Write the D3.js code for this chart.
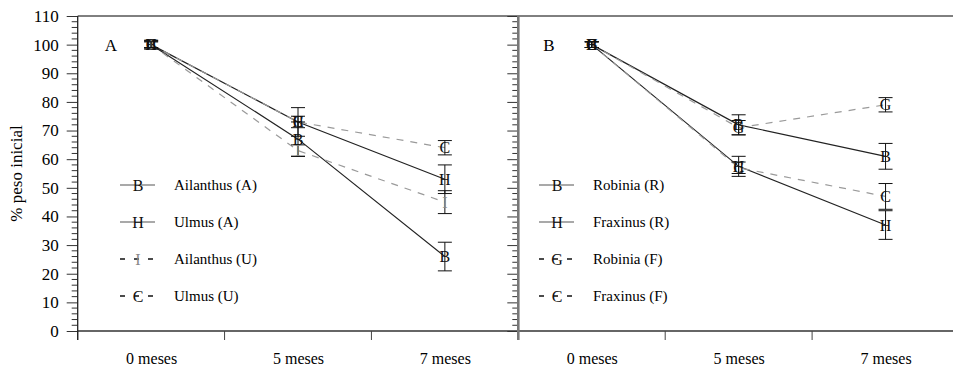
<!DOCTYPE html>
<html>
<head>
<meta charset="utf-8">
<script src="https://cdn.jsdelivr.net/npm/d3@7"></script>
<style>
	body { margin: 0; background: #fff; }
	svg { display: block; }
</style>
</head>
<body>
<div id="chart"></div>
<script>
// categories and tick labels
const meses = ["0 meses", "5 meses", "7 meses"];
const yTickValues = [0, 10, 20, 30, 40, 50, 60, 70, 80, 90, 100, 110];
const yMinorValues = [2, 4, 6, 8, 12, 14, 16, 18, 22, 24, 26, 28, 32, 34, 36, 38, 42, 44, 46, 48,
	52, 54, 56, 58, 62, 64, 66, 68, 72, 74, 76, 78, 82, 84, 86, 88, 92, 94, 96, 98, 102, 104, 106, 108];

// panel A values (% peso inicial) and error half widths
const ailanthusA = [100, 67, 26];
const ailanthusAErr = [1.5, 6, 5];
const ulmusA = [100, 73, 53];
const ulmusAErr = [1.5, 5, 5];
const ailanthusU = [100, 63, 45];
const ailanthusUErr = [1, 2, 4];
const ulmusU = [100, 73, 64];
const ulmusUErr = [1, 2, 2.5];

// panel B
const robiniaR = [100, 72, 61];
const robiniaRErr = [1, 3.5, 4.5];
const fraxinusR = [100, 57.5, 37];
const fraxinusRErr = [1, 3.5, 5];
const robiniaF = [100, 71, 79];
const robiniaFErr = [1, 2.5, 2.5];
const fraxinusF = [100, 57, 47];
const fraxinusFErr = [1, 2, 4.5];

const panels = [
	{
		letter: "A",
		series: [
			{ name: "Ailanthus (A)", values: ailanthusA, err: ailanthusAErr, mark: "B", dashed: false },
			{ name: "Ulmus (A)", values: ulmusA, err: ulmusAErr, mark: "H", dashed: false },
			{ name: "Ailanthus (U)", values: ailanthusU, err: ailanthusUErr, mark: "I", dashed: true },
			{ name: "Ulmus (U)", values: ulmusU, err: ulmusUErr, mark: "C", dashed: true }
		]
	},
	{
		letter: "B",
		series: [
			{ name: "Robinia (R)", values: robiniaR, err: robiniaRErr, mark: "B", dashed: false },
			{ name: "Fraxinus (R)", values: fraxinusR, err: fraxinusRErr, mark: "H", dashed: false },
			{ name: "Robinia (F)", values: robiniaF, err: robiniaFErr, mark: "G", dashed: true },
			{ name: "Fraxinus (F)", values: fraxinusF, err: fraxinusFErr, mark: "C", dashed: true }
		]
	}
];

const serif = '"Liberation Serif", "DejaVu Serif", serif';
const width = 953, height = 366;
const plotTop = 16, plotBottom = 331;
const panelX = [[77.7, 518.3], [518.3, 959]];

const svg = d3.select('#chart').append('svg')
	.attr('width', width)
	.attr('height', height)
	.attr('font-family', serif);

const y = d3.scaleLinear().domain([0, 110]).range([plotBottom, plotTop]);

// top border
svg.append('line')
	.attr('x1', panelX[0][0]).attr('x2', width)
	.attr('y1', plotTop).attr('y2', plotTop)
	.style('stroke', '#000').style('stroke-width', 1);

// y label
svg.append('text')
	.attr('transform', `translate(22, ${(plotTop + plotBottom) / 2}) rotate(-90)`)
	.attr('text-anchor', 'middle')
	.style('font-family', serif)
	.style('font-size', '17px')
	.text('% peso inicial');

panels.forEach((p, pi) => {
	const x = d3.scaleBand()
		.domain(meses)
		.range(panelX[pi]);
	const cx = d => x(d) + x.bandwidth() / 2;
	const g = svg.append('g');

	// x axis
	g.append('line')
		.attr('x1', panelX[pi][0]).attr('x2', panelX[pi][1])
		.attr('y1', plotBottom).attr('y2', plotBottom)
		.style('stroke', '#666').style('stroke-width', 2.2);
	g.selectAll('.xtick')
		.data(meses.map(d => x(d)))
		.enter().append('line')
			.attr('x1', d => d).attr('x2', d => d)
			.attr('y1', plotBottom).attr('y2', plotBottom + 9)
			.style('stroke', '#444').style('stroke-width', 1);

	const xAxis = d3.axisBottom(d3.scalePoint().domain(meses).range([cx(meses[0]), cx(meses[2])]))
		.tickSize(0)
		.tickPadding(0);
	const xg = g.append('g')
		.attr('transform', `translate(0, ${plotBottom})`)
		.call(xAxis);
	xg.select('.domain').remove();
	xg.selectAll('text')
		.attr('dy', null)
		.attr('y', 33)
		.style('font-family', serif)
		.style('font-size', '16px')
		.style('fill', '#000');

	// y axis
	const x0 = panelX[pi][0];
	const yAxis = d3.axisLeft(y)
		.tickValues(yTickValues)
		.tickSize(11)
		.tickPadding(8)
		.tickFormat(pi === 0 ? d3.format('d') : () => '');
	const yg = g.append('g')
		.attr('transform', `translate(${x0}, 0)`)
		.call(yAxis);
	yg.select('.domain').remove();
	yg.selectAll('text')
		.style('font-family', serif)
		.style('font-size', '17px')
		.style('fill', '#000');
	yg.selectAll('line').style('stroke', '#333');

	g.selectAll('.minor')
		.data(yMinorValues)
		.enter().append('line')
			.attr('x1', x0 - 6).attr('x2', x0)
			.attr('y1', d => y(d)).attr('y2', d => y(d))
			.style('stroke', '#333').style('stroke-width', 1);

	g.append('line')
		.attr('x1', x0).attr('x2', x0)
		.attr('y1', plotTop).attr('y2', plotBottom + 9)
		.style('stroke', pi === 0 ? '#222' : '#777')
		.style('stroke-width', pi === 0 ? 1.3 : 2.6);

	// panel letter
	g.append('text')
		.attr('x', x0 + (pi === 0 ? 27 : 25))
		.attr('y', y(100) + 6)
		.style('font-family', serif)
		.style('font-size', '17px')
		.text(p.letter);

	// lines
	const line = d3.line()
		.x((d, i) => cx(meses[i]))
		.y(d => y(d));

	p.series.forEach(s => {
		g.append('path')
			.datum(s.values)
			.attr('d', line)
			.style('fill', 'none')
			.style('stroke', s.dashed ? '#9a9a9a' : '#222')
			.style('stroke-width', 1.2)
			.style('stroke-dasharray', s.dashed ? '7,7' : null);
	});

	// error bars and markers
	p.series.forEach(s => {
		const eb = g.append('g').style('stroke', '#111').style('stroke-width', 1);
		s.values.forEach((v, i) => {
			const px = cx(meses[i]);
			const hi = y(v + s.err[i]), lo = y(v - s.err[i]);
			eb.append('line').attr('x1', px).attr('x2', px).attr('y1', hi).attr('y2', lo);
			eb.append('line').attr('x1', px - 7).attr('x2', px + 7).attr('y1', hi).attr('y2', hi);
			eb.append('line').attr('x1', px - 7).attr('x2', px + 7).attr('y1', lo).attr('y2', lo);
		});
		g.selectAll(null)
			.data(s.values)
			.enter().append('text')
				.attr('x', (d, i) => cx(meses[i]))
				.attr('y', d => y(d) + 5.5)
				.attr('text-anchor', 'middle')
				.style('font-family', serif)
				.style('font-size', '16px')
				.style('fill', s.mark === 'I' ? '#888' : '#111')
				.text(s.mark);
	});

	// legend
	const lx = pi === 0 ? 120 : 539;
	const legendY = [185, 222, 259, 296];
	p.series.forEach((s, i) => {
		const row = g.append('g').attr('transform', `translate(${lx}, ${legendY[i]})`);
		row.append('line')
			.attr('x1', 0).attr('x2', 35)
			.attr('y1', 0).attr('y2', 0)
			.style('stroke', s.dashed ? '#111' : '#555')
			.style('stroke-width', s.dashed ? 1.6 : 1.2)
			.style('stroke-dasharray', s.dashed ? '5,9' : null);
		row.append('text')
			.attr('x', 18).attr('y', 5.5)
			.attr('text-anchor', 'middle')
			.style('font-family', serif)
			.style('font-size', '16px')
			.style('fill', s.mark === 'I' ? '#888' : '#111')
			.text(s.mark);
		row.append('text')
			.attr('x', 54).attr('y', 5)
			.style('font-family', serif)
			.style('font-size', '15px')
			.text(s.name);
	});
});
</script>
</body>
</html>
